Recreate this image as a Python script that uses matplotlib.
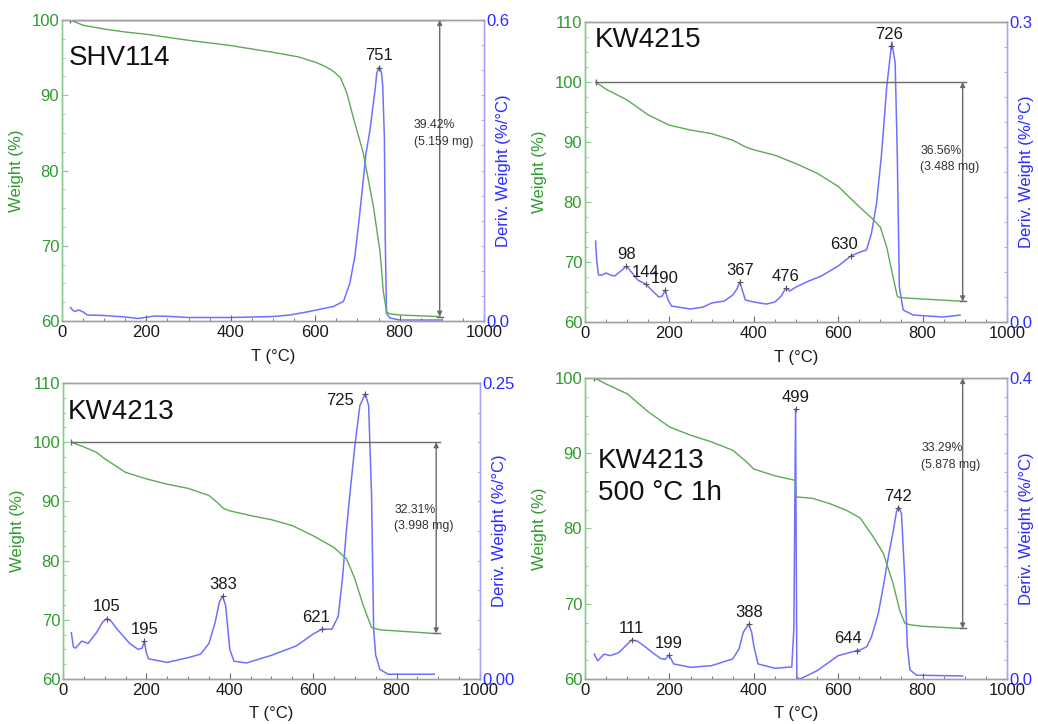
import matplotlib
matplotlib.use("Agg")
import matplotlib.pyplot as plt
from matplotlib.ticker import MultipleLocator, FixedLocator
import numpy as np

plt.rcParams.update({
    "font.family": ["Liberation Sans", "DejaVu Sans"],
    "font.size": 11.5,
})

GREEN_TXT = "#2f9a2f"
GREEN_LN = "#5daa55"
GREEN_SP = "#8cc98c"
BLUE_TXT = "#2b2bff"
BLUE_LN = "#7070ff"
BLUE_SP = "#a4a4ff"
GRAY = "#6a6a6a"

# ── SHV114 ────────────────────────────────────────────────────────────────────
t_w1 = [20, 50, 100, 150, 200, 300, 400, 500, 560, 600, 625, 645, 660, 675,
        690, 714, 738, 754, 761, 769, 777, 800, 896]
w1 = [100, 99.3, 98.8, 98.4, 98.1, 97.3, 96.6, 95.7, 95.1, 94.4, 93.8, 93.1,
      92.3, 90.3, 87.1, 82.3, 75.2, 69.0, 64.1, 61.2, 60.95, 60.8, 60.58]
t_d1 = [20, 25, 30, 40, 50, 60, 100, 150, 180, 220, 260, 300, 400, 500, 540,
        580, 620, 643, 667, 682, 694, 704, 714, 720, 730, 742, 746, 752, 757,
        760, 764, 766, 769, 777, 800, 900]
d1 = [0.027, 0.022, 0.019, 0.022, 0.018, 0.012, 0.011, 0.008, 0.005, 0.010,
      0.009, 0.007, 0.007, 0.009, 0.012, 0.018, 0.025, 0.029, 0.039, 0.075,
      0.129, 0.202, 0.282, 0.332, 0.382, 0.462, 0.495, 0.507, 0.495, 0.469,
      0.362, 0.162, 0.015, 0.006, 0.002, 0.002]
peaks1 = [751]

# ── KW4215 ────────────────────────────────────────────────────────────────────
t_w2 = [25, 50, 100, 150, 200, 250, 300, 350, 380, 400, 450, 500, 550, 600,
        650, 680, 700, 715, 730, 740, 745, 760, 900]
w2 = [100, 98.8, 97.0, 94.5, 92.8, 92.0, 91.4, 90.3, 89.2, 88.7, 87.8, 86.4,
      84.8, 82.6, 79.2, 77.3, 75.8, 72.5, 67.5, 64.3, 64.1, 64.0, 63.44]
t_d2 = [25, 28, 32, 40, 50, 60, 70, 85, 98, 110, 125, 144, 160, 175, 183, 190,
        197, 205, 220, 250, 280, 300, 330, 350, 360, 367, 372, 380, 400, 430,
        450, 465, 476, 485, 500, 530, 560, 600, 630, 652, 667, 679, 691, 703,
        715, 727, 735, 740, 745, 754, 778, 849, 889]
d2 = [0.081, 0.060, 0.047, 0.047, 0.049, 0.047, 0.046, 0.051, 0.056, 0.050,
      0.042, 0.038, 0.031, 0.025, 0.026, 0.032, 0.022, 0.016, 0.015, 0.013,
      0.015, 0.019, 0.021, 0.027, 0.033, 0.040, 0.033, 0.022, 0.020, 0.018,
      0.020, 0.026, 0.034, 0.031, 0.035, 0.041, 0.046, 0.056, 0.066, 0.070,
      0.072, 0.089, 0.119, 0.169, 0.235, 0.280, 0.259, 0.169, 0.035, 0.012,
      0.007, 0.005, 0.007]
peaks2 = [98, 144, 190, 367, 476, 630, 726]

# ── KW4213 ────────────────────────────────────────────────────────────────────
t_w3 = [20, 50, 80, 100, 150, 200, 250, 300, 350, 370, 385, 400, 450, 500,
        550, 600, 650, 680, 700, 720, 740, 760, 890]
w3 = [100, 99.2, 98.3, 97.2, 94.9, 93.8, 92.9, 92.2, 91.0, 89.8, 88.8, 88.4,
      87.6, 86.9, 85.9, 84.2, 82.2, 80.3, 76.9, 72.4, 68.7, 68.3, 67.69]
t_d3 = [20, 25, 30, 45, 60, 80, 95, 105, 115, 130, 160, 180, 190, 195, 200,
        205, 220, 250, 300, 330, 350, 365, 375, 383, 390, 400, 410, 440, 500,
        560, 600, 621, 645, 660, 670, 680, 690, 700, 712, 725, 733, 740, 745,
        750, 760, 780, 890]
d3 = [0.039, 0.027, 0.026, 0.032, 0.030, 0.039, 0.048, 0.051, 0.049, 0.042,
      0.030, 0.025, 0.026, 0.032, 0.022, 0.017, 0.016, 0.014, 0.018, 0.021,
      0.030, 0.048, 0.065, 0.070, 0.062, 0.025, 0.015, 0.0135, 0.020, 0.028,
      0.038, 0.042, 0.042, 0.053, 0.084, 0.127, 0.163, 0.197, 0.231, 0.241,
      0.231, 0.155, 0.042, 0.020, 0.008, 0.004, 0.004]
peaks3 = [105, 195, 383, 621, 725]

# ── KW4213, 500 °C 1h ─────────────────────────────────────────────────────────
t_w4 = [22, 50, 100, 150, 200, 250, 300, 350, 380, 400, 450, 498, 500, 540,
        580, 620, 652, 683, 707, 730, 746, 758, 770, 800, 895]
w4 = [100, 99.2, 97.9, 95.5, 93.5, 92.4, 91.5, 90.4, 89.0, 87.9, 87.0, 86.4,
      84.2, 84.0, 83.3, 82.4, 81.4, 78.9, 76.7, 72.7, 69.1, 67.4, 67.2, 67.0,
      66.71]
t_d4 = [22, 30, 45, 60, 80, 100, 111, 125, 140, 160, 180, 190, 199, 210, 250,
        300, 350, 365, 375, 388, 395, 400, 410, 450, 490, 495, 499, 502, 510,
        550, 600, 644, 652, 668, 679, 695, 707, 719, 731, 738, 743, 750, 758,
        764, 770, 786, 895]
d4 = [0.033, 0.024, 0.033, 0.031, 0.035, 0.046, 0.052, 0.050, 0.044, 0.035,
      0.027, 0.026, 0.032, 0.020, 0.0155, 0.0177, 0.0266, 0.040, 0.062, 0.073,
      0.062, 0.044, 0.020, 0.0142, 0.016, 0.067, 0.359, 0.002, 0.0, 0.011,
      0.031, 0.0377, 0.0385, 0.043, 0.056, 0.087, 0.123, 0.163, 0.198, 0.222,
      0.229, 0.220, 0.131, 0.043, 0.012, 0.005, 0.004]
peaks4 = [111, 199, 388, 499, 644, 742]

panels = [
    dict(rect=[0.0597, 0.5566, 0.4066, 0.4158], name="SHV114",
         name_xy=(0.015, 0.873), ylim=(60, 100), dmax=0.6, dminor=0.05,
         dfmt="{:.1f}", tw=t_w1, w=w1, td=t_d1, d=d1, peaks=peaks1,
         loss="39.42%\n(5.159 mg)", loss_xy=(833, 84.9), w0=20,
         offsets={}),
    dict(rect=[0.5636, 0.5552, 0.4065, 0.4144], name="KW4215",
         name_xy=(0.024, 0.94), ylim=(60, 110), dmax=0.3, dminor=0.025,
         dfmt="{:.1f}", tw=t_w2, w=w2, td=t_d2, d=d2, peaks=peaks2,
         loss="36.56%\n(3.488 mg)", loss_xy=(795, 87.2), w0=25,
         offsets={630: (-5, 1), 726: (-2, 1)}),
    dict(rect=[0.0607, 0.0622, 0.4017, 0.4088], name="KW4213",
         name_xy=(0.012, 0.902), ylim=(60, 110), dmax=0.25, dminor=0.025,
         dfmt="{:.2f}", tw=t_w3, w=w3, td=t_d3, d=d3, peaks=peaks3,
         loss="32.31%\n(3.998 mg)", loss_xy=(795, 87.2), w0=20,
         offsets={621: (-4, 1), 725: (-18, -12)}),
    dict(rect=[0.5636, 0.0622, 0.4065, 0.4157], name="KW4213\n500 °C 1h",
         name_xy=(0.031, 0.670), ylim=(60, 100), dmax=0.4, dminor=0.025,
         dfmt="{:.1f}", tw=t_w4, w=w4, td=t_d4, d=d4, peaks=peaks4,
         loss="33.29%\n(5.878 mg)", loss_xy=(797, 89.6), w0=22,
         offsets={644: (-6, 1)}),
]

fig = plt.figure(figsize=(10.38, 7.24), dpi=100)

for p in panels:
    ax = fig.add_axes(p["rect"])
    ax2 = ax.twinx()
    ax.set_zorder(ax2.get_zorder() + 1)
    ax.patch.set_visible(False)

    # weight curve (left axis)
    ax.plot(p["tw"], p["w"], color=GREEN_LN, lw=1.0)
    # derivative curve (right axis)
    ax2.plot(p["td"], p["d"], color=BLUE_LN, lw=1.1)

    lo, hi = p["ylim"]
    ax.set_xlim(0, 1000)
    ax.set_ylim(lo, hi)
    ax2.set_ylim(0, p["dmax"])

    ax.xaxis.set_major_locator(MultipleLocator(200))
    ax.xaxis.set_minor_locator(MultipleLocator(50))
    ax.yaxis.set_major_locator(MultipleLocator(10))
    ax.yaxis.set_minor_locator(MultipleLocator(2.5))
    ax2.yaxis.set_major_locator(FixedLocator([0, p["dmax"]]))
    ax2.yaxis.set_minor_locator(MultipleLocator(p["dminor"]))
    ax2.set_yticklabels([p["dfmt"].format(0), p["dfmt"].format(p["dmax"])])

    ax.tick_params(axis="x", which="both", direction="in", colors=GRAY,
                   labelcolor="#1a1a1a", labelsize=12, pad=3)
    ax.tick_params(axis="x", which="major", length=4)
    ax.tick_params(axis="x", which="minor", length=2.5)
    ax.tick_params(axis="y", which="both", direction="in", colors=GREEN_SP,
                   labelcolor=GREEN_TXT, labelsize=12, pad=2)
    ax.tick_params(axis="y", which="major", length=4)
    ax.tick_params(axis="y", which="minor", length=2.5)
    ax2.tick_params(axis="y", which="both", direction="in", colors=BLUE_SP,
                    labelcolor=BLUE_TXT, labelsize=12, pad=2)
    ax2.tick_params(axis="y", which="major", length=4)
    ax2.tick_params(axis="y", which="minor", length=2.5)

    for a in (ax, ax2):
        a.spines["top"].set_color("#a0a0a0")
        a.spines["bottom"].set_color("#a0a0a0")
        a.spines["left"].set_color(GREEN_SP)
        a.spines["right"].set_color(BLUE_SP)
        for s in a.spines.values():
            s.set_linewidth(1.0)

    ax.set_xlabel("T (°C)", color="#1a1a1a", fontsize=12, labelpad=6)
    ax.set_ylabel("Weight (%)", color=GREEN_TXT, fontsize=12)
    ax.yaxis.set_label_coords(-0.090, 0.5)
    ax2.set_ylabel("Deriv. Weight (%/°C)", color=BLUE_TXT, fontsize=12)
    ax2.yaxis.set_label_coords(1.029, 0.5)

    ax.text(p["name_xy"][0], p["name_xy"][1], p["name"], transform=ax.transAxes,
            ha="left", va="center", fontsize=20, color="#111111",
            linespacing=1.3)

    # mass-loss bracket
    final = p["w"][-1]
    ax.plot([p["w0"], 903], [100, 100], color=GRAY, lw=1.0)
    ax.plot([p["w0"]], [100], marker="|", ms=5, color=GRAY, mew=1.0)
    ax.annotate("", xy=(895, final), xytext=(895, 100),
                arrowprops=dict(arrowstyle="<|-|>", color=GRAY, lw=1.0,
                                mutation_scale=7, shrinkA=0, shrinkB=0))
    ax.plot([888, 903], [final, final], color=GRAY, lw=1.0)
    ax.text(p["loss_xy"][0], p["loss_xy"][1], p["loss"], ha="left",
            va="center", fontsize=8.8, color="#333333", linespacing=1.5)

    # peak temperatures on the derivative curve
    for pk in p["peaks"]:
        y = np.interp(pk, p["td"], p["d"])
        ax2.plot([pk], [y], marker="+", ms=5, mew=0.8, color="#555555")
        dx, dy = p["offsets"].get(pk, (0, 1))
        ax2.annotate(str(pk), xy=(pk, y), xytext=(dx, dy + 2),
                     textcoords="offset points", ha="center", va="bottom",
                     fontsize=12, color="#1a1a1a")

fig.savefig("out.png", dpi=100)
